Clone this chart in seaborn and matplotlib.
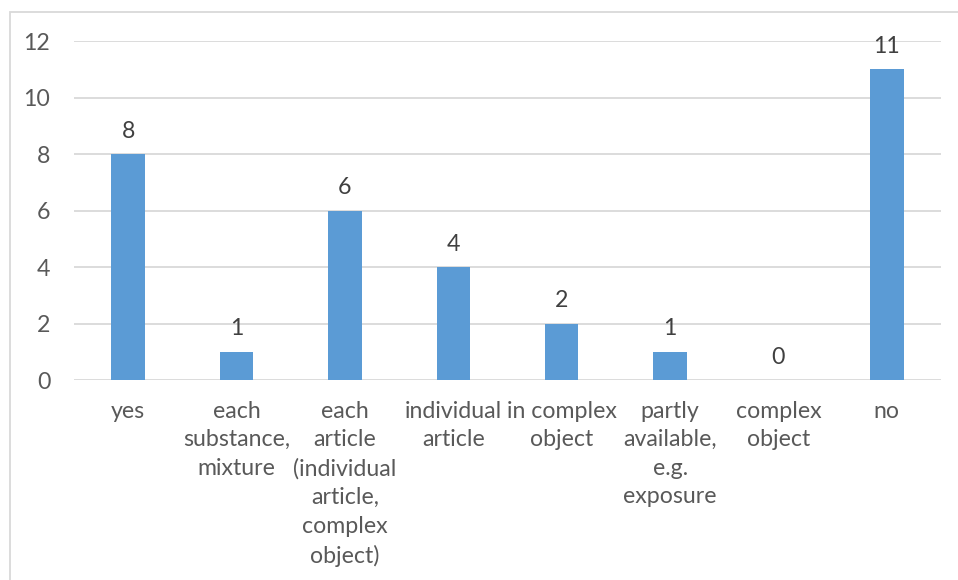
import matplotlib
matplotlib.use("Agg")
import matplotlib.pyplot as plt
import seaborn as sns
import pandas as pd
from matplotlib.patches import Rectangle

categories = [
    "yes",
    "each\nsubstance,\nmixture",
    "each\narticle\n(individual\narticle,\ncomplex\nobject)",
    "individual\narticle",
    "in complex\nobject",
    "partly\navailable,\ne.g.\nexposure",
    "complex\nobject",
    "no",
]
counts = [8, 1, 6, 4, 2, 1, 0, 11]
y_ticks = [0, 2, 4, 6, 8, 10, 12]

BAR = "#5B9BD5"
TEXT = "#595959"
GRID = "#D9D9D9"
FS = 16.7

sns.set_theme(style="white")
plt.rcParams["font.family"] = ["Lato", "DejaVu Sans"]

df = pd.DataFrame({"category": categories, "count": counts})

fig = plt.figure(figsize=(9.58, 5.80), dpi=100)
ax = fig.add_axes([0.0772, 0.3448, 0.9051, 0.5845])

sns.barplot(data=df, x="category", y="count", color=BAR, width=0.31,
            saturation=1, linewidth=0, ax=ax, zorder=3)

ax.set_ylim(0, 12)
ax.set_yticks(y_ticks)
ax.set_xlim(-0.5, len(categories) - 0.5)
ax.set_xlabel("")
ax.set_ylabel("")
for s in ax.spines.values():
    s.set_visible(False)
ax.grid(axis="y", color=GRID, linewidth=1.3, zorder=0)
ax.grid(axis="x", visible=False)
ax.tick_params(axis="both", length=0, labelsize=FS, colors=TEXT)
ax.tick_params(axis="y", pad=17)
ax.tick_params(axis="x", pad=15)
for lbl in ax.get_xticklabels():
    lbl.set_linespacing(1.44)
    lbl.set_verticalalignment("top")

for i, v in enumerate(counts):
    ax.annotate(str(v), (i, v), xytext=(0, 9), textcoords="offset points",
                ha="center", va="bottom", fontsize=FS, color="#404040")

# chart area frame
fig.patches.append(Rectangle((10 / 958, -0.05), 1.0, 1 - 12 / 580 + 0.05,
                             transform=fig.transFigure, fill=False,
                             edgecolor=GRID, linewidth=1.3))

fig.savefig("out.png", dpi=100)
